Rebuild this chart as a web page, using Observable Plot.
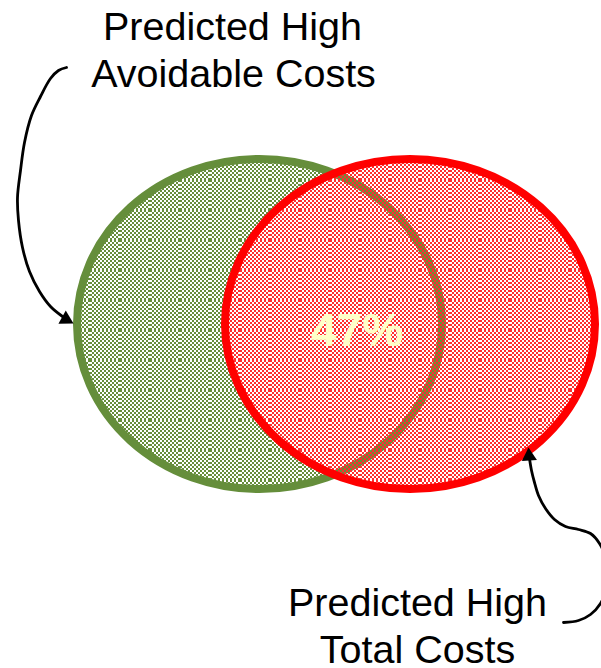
<!DOCTYPE html>
<html><head><meta charset="utf-8">
<script src="https://cdn.jsdelivr.net/npm/d3@7"></script>
<script src="https://cdn.jsdelivr.net/npm/@observablehq/plot@0.6"></script>
<style>body{margin:0;background:#fff} svg{display:block}</style>
</head><body><div id="chart"></div>
<script>
// ---- data ----
const setNames   = ["Predicted High Avoidable Costs", "Predicted High Total Costs"];
const setCx      = [259.5, 410];
const setCy      = [324, 324];
const setRx      = [182.5, 185];
const setRy      = [165, 165];
const setStroke  = ["#658e3b", "#ff0000"];
const setCell    = ["#658e3b", "#ff2e2e"];
const overlapText = ["47%"];
const overlapPos  = [[356.5, 345]];
const labelLines = ["Predicted High", "Avoidable Costs", "Predicted High", "Total Costs"];
const labelX     = [232, 233, 417, 417];
const labelY     = [39, 86, 615, 662];
const arrowA = [[66,67],[58,70],[50,78],[40,96],[31,115],[24,142],[20,170],[17,197],[18,220],[22,247],[29,271],[39,291],[50,306],[62,316]];
const arrowB = [[529,458],[531,470],[534,482],[538,495],[545,508],[554,519],[565,526],[578,529],[590,533],[599,543],[606,560],[607,585],[600,603],[590,614],[578,620],[563,622]];
const headX  = [65.4, 528.6];
const headY  = [318.8, 455.6];
const headRot = [119, -4];

const W = 601, H = 668;
const sets = setNames.map((name, i) => ({
  name, x1: setCx[i] - setRx[i], x2: setCx[i] + setRx[i],
  y1: setCy[i] - setRy[i], y2: setCy[i] + setRy[i],
  rx: setRx[i], ry: setRy[i], stroke: setStroke[i], fill: `url(#pat${i})`
}));
const labels = labelLines.map((t, i) => ({t, x: labelX[i], y: labelY[i]}));
const overlap = overlapText.map((t, i) => ({t, x: overlapPos[i][0], y: overlapPos[i][1]}));
const heads = headX.map((x, i) => ({x, y: headY[i], r: headRot[i]}));
const font = "Liberation Sans, Arial, Helvetica, sans-serif";

const svg = Plot.plot({
  width: W, height: H,
  margin: 0,
  x: {domain: [0, W], range: [0, W], axis: null},
  y: {domain: [0, H], range: [0, H], axis: null},
  style: {background: "#fff", fontFamily: font, overflow: "hidden"},
  marks: [
    ...sets.map(s => Plot.rect([s], {
      x1: "x1", x2: "x2", y1: "y1", y2: "y2",
      rx: s.rx, ry: s.ry, fill: s.fill, stroke: s.stroke, strokeWidth: 8
    })),
    Plot.text(overlap, {x: "x", y: "y", text: "t", lineAnchor: "bottom",
      fontSize: 46, fontWeight: "bold", fill: "#ffffc8", fontFamily: font}),
    Plot.line(arrowA, {x: d => d[0], y: d => d[1], curve: "catmull-rom", stroke: "#000", strokeWidth: 2.8}),
    Plot.line(arrowB, {x: d => d[0], y: d => d[1], curve: "catmull-rom", stroke: "#000", strokeWidth: 2.8}),
    Plot.dot(heads, {x: "x", y: "y", rotate: "r", symbol: "triangle", r: 5.6, fill: "#000", stroke: "none"}),
    Plot.text(labels, {x: "x", y: "y", text: "t", lineAnchor: "bottom",
      fontSize: 39.5, fill: "#000", fontFamily: font})
  ]
});

// patterns (checkered fills, 2px cells, 30px tile gives the faint seams)
const ns = "http://www.w3.org/2000/svg";
const defs = document.createElementNS(ns, "defs");
setCell.forEach((c, i) => {
  const p = document.createElementNS(ns, "pattern");
  p.setAttribute("id", `pat${i}`);
  p.setAttribute("patternUnits", "userSpaceOnUse");
  p.setAttribute("width", 30); p.setAttribute("height", 30);
  let d = "";
  for (let a = 0; a < 15; a++) for (let b = 0; b < 15; b++)
    if ((a + b) % 2 === 0) d += `M${2*a},${2*b}h2v2h-2z`;
  const path = document.createElementNS(ns, "path");
  path.setAttribute("d", d); path.setAttribute("fill", c);
  p.appendChild(path);
  defs.appendChild(p);
});
svg.insertBefore(defs, svg.firstChild);
document.getElementById("chart").appendChild(svg);
</script>
</body></html>
